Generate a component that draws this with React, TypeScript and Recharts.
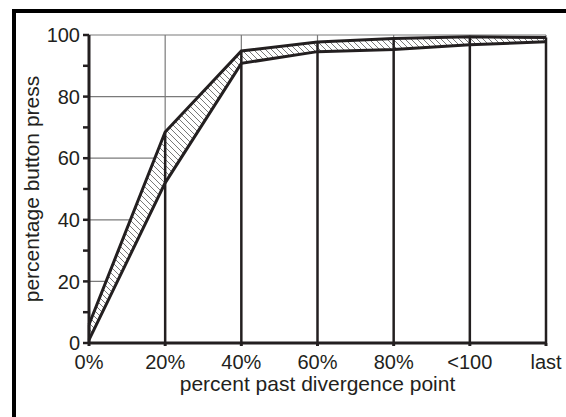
import React from "react";
import {
  ComposedChart,
  Area,
  Line,
  XAxis,
  YAxis,
  CartesianGrid,
  ReferenceLine,
} from "recharts";

const categories = ["0%", "20%", "40%", "60%", "80%", "<100", "last"];
const upperValues = [6, 68.5, 94.8, 97.7, 98.9, 99.4, 99.2];
const lowerValues = [1, 52, 90.8, 94.6, 95.3, 96.8, 97.8];
const yTicks = [0, 10, 20, 30, 40, 50, 60, 70, 80, 90, 100];
const yLabelValues = [0, 20, 40, 60, 80, 100];
const gridValues = [20, 40, 60, 80, 100];
const yDomain = [0, 100];

const data = categories.map((label, i) => ({
  label,
  upper: upperValues[i],
  lower: lowerValues[i],
  band: [lowerValues[i], upperValues[i]],
}));

const ink = "#231f20";
const gridGray = "#7a7a7a";
const font = "'Liberation Sans', Arial, Helvetica, sans-serif";

// map grid values to the plot box (linear y domain)
const gridRows = ({ offset }: any) => {
  const top = offset?.top ?? 35;
  const h = offset?.height ?? 308;
  return gridValues.map((v) => top + h * (1 - (v - yDomain[0]) / (yDomain[1] - yDomain[0])));
};

const YTick = (props: any) => {
  const { x, y, payload } = props;
  if (!yLabelValues.includes(payload.value)) return <g />;
  return (
    <text x={x} y={y} dy="0.36em" textAnchor="end" fill={ink} fontSize={20} fontFamily={font}>
      {payload.value}
    </text>
  );
};

const XTick = (props: any) => {
  const { x, y, payload } = props;
  return (
    <text x={x} y={y} dy="0.71em" textAnchor="middle" fill={ink} fontSize={20} fontFamily={font}>
      {payload.value}
    </text>
  );
};

const YTitle = (props: any) => {
  const { viewBox } = props;
  const cx = 39;
  const cy = viewBox.y + viewBox.height / 2;
  return (
    <text
      x={cx}
      y={cy}
      transform={`rotate(-90 ${cx} ${cy})`}
      textAnchor="middle"
      fill={ink}
      fontSize={21}
      fontFamily={font}
    >
      percentage button press
    </text>
  );
};

export default function App() {
  return (
    <div
      style={{
        position: "absolute",
        left: 0,
        top: 0,
        width: 566,
        height: 417,
        overflow: "hidden",
        background: "#fff",
      }}
    >
      <div
        style={{
          position: "absolute",
          left: 12,
          top: 9,
          width: 600,
          height: 450,
          borderTop: "4px solid #000",
          borderLeft: "4px solid #000",
        }}
      />
      <div style={{ position: "absolute", left: 0, top: 0 }}>
        <ComposedChart
          width={566}
          height={417}
          data={data}
          margin={{ top: 35, right: 20, bottom: 0, left: 0 }}
        >
          <defs>
            <pattern id="hatch" patternUnits="userSpaceOnUse" width="6" height="6">
              <rect width="6" height="6" fill="#fff" />
              <path d="M-1,-1 L7,7 M-1,5 L1,7 M5,-1 L7,1" stroke="#555" strokeWidth={0.8} />
            </pattern>
          </defs>
          <CartesianGrid
            stroke={gridGray}
            strokeWidth={1.2}
            horizontalCoordinatesGenerator={gridRows}
          />
          <XAxis
            dataKey="label"
            height={74}
            interval={0}
            axisLine={{ stroke: ink, strokeWidth: 3 }}
            tickLine={{ stroke: ink, strokeWidth: 3 }}
            tickSize={3}
            tickMargin={9}
            tick={<XTick />}
            label={{
              value: "percent past divergence point",
              position: "insideBottom",
              offset: 26,
              fill: ink,
              fontSize: 21,
              fontFamily: font,
            }}
          />
          <YAxis
            width={89}
            domain={yDomain}
            ticks={yTicks}
            interval={0}
            axisLine={{ stroke: ink, strokeWidth: 3 }}
            tickLine={{ stroke: ink, strokeWidth: 2.5 }}
            tickSize={6}
            tickMargin={3}
            tick={<YTick />}
            label={{ content: <YTitle /> }}
          />
          <Area
            dataKey="upper"
            type="linear"
            fill="#fff"
            fillOpacity={1}
            stroke="none"
            isAnimationActive={false}
          />
          <Area
            dataKey="band"
            type="linear"
            fill="url(#hatch)"
            fillOpacity={1}
            stroke="none"
            isAnimationActive={false}
          />
          {data.map((d) => (
            <ReferenceLine
              key={d.label}
              segment={[
                { x: d.label, y: 0 },
                { x: d.label, y: d.upper },
              ]}
              stroke={ink}
              strokeWidth={2.5}
            />
          ))}
          <Line
            dataKey="upper"
            type="linear"
            stroke={ink}
            strokeWidth={3}
            dot={false}
            isAnimationActive={false}
          />
          <Line
            dataKey="lower"
            type="linear"
            stroke={ink}
            strokeWidth={3}
            dot={false}
            isAnimationActive={false}
          />
        </ComposedChart>
      </div>
    </div>
  );
}
